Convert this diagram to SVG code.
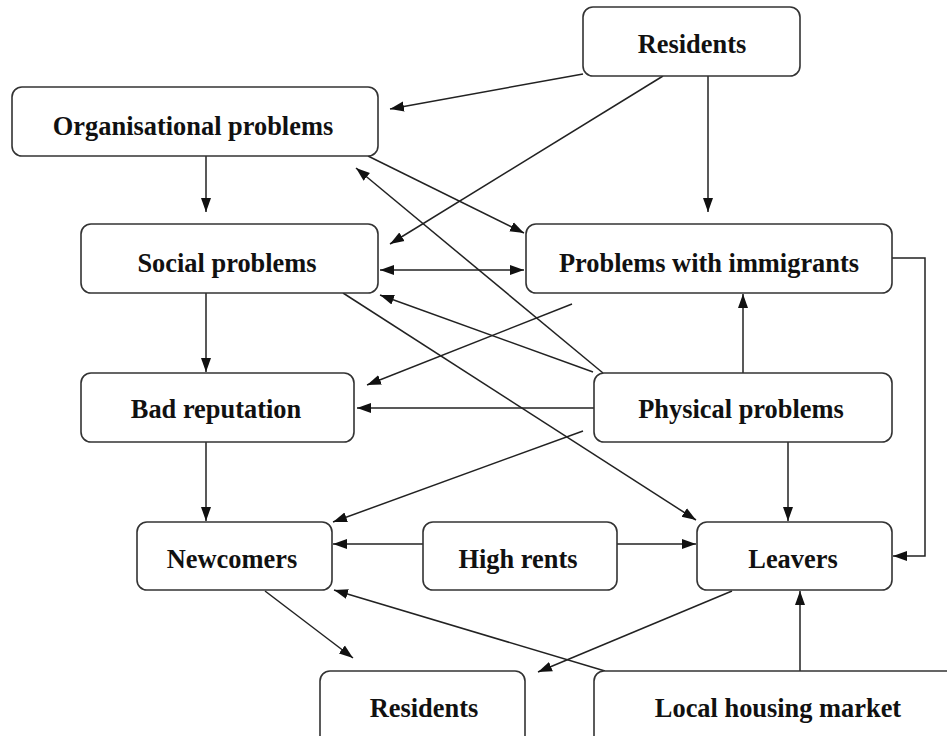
<svg xmlns="http://www.w3.org/2000/svg" width="947" height="736" viewBox="0 0 947 736">
<defs>
<marker id="ah" markerUnits="userSpaceOnUse" markerWidth="15" markerHeight="12" refX="14" refY="6" orient="auto-start-reverse"><path d="M0,1 L14,6 L0,11 z" fill="#111"/></marker>
<style>
.box{fill:#fff;stroke:#333;stroke-width:1.6}
.lbl{font-family:"Liberation Serif","Times New Roman",serif;font-weight:bold;font-size:26.4px;fill:#111;text-anchor:middle}
.c{fill:none;stroke:#222;stroke-width:1.5;marker-end:url(#ah)}
</style>
</defs>
<rect width="947" height="736" fill="#fff"/>
<g id="connectors">
<path class="c" d="M583,74 L390,109"/>
<path class="c" d="M663,76 L390,244"/>
<path class="c" d="M708,76 L708,212"/>
<path class="c" d="M206,156 L206,212"/>
<path class="c" d="M368,156 L524,233"/>
<path class="c" d="M603,373 L356,168"/>
<path class="c" d="M380,270 L524,270" style="marker-start:url(#ah)"/>
<path class="c" d="M593,372 L380,295"/>
<path class="c" d="M572,304 L367,385"/>
<path class="c" d="M594,408 L357,408"/>
<path class="c" d="M343,293 L696,520"/>
<path class="c" d="M206,293 L206,372"/>
<path class="c" d="M743,373 L743,294"/>
<path class="c" d="M892,258 L925,258 L925,556 L893,556"/>
<path class="c" d="M206,442 L206,521"/>
<path class="c" d="M583,431 L333,522"/>
<path class="c" d="M788,442 L788,521"/>
<path class="c" d="M423,544 L333,544"/>
<path class="c" d="M617,544 L696,544"/>
<path class="c" d="M265,591 L353,658"/>
<path class="c" d="M732,591 L538,672"/>
<path class="c" d="M605,671 L334,590"/>
<path class="c" d="M800,671 L800,591"/>
</g>
<g id="residents-top"><rect class="box" x="583" y="7" width="217" height="69" rx="10"/><text class="lbl" x="692" y="53">Residents</text></g>
<g id="organisational"><rect class="box" x="12" y="87" width="366" height="69" rx="10"/><text class="lbl" x="193" y="135">Organisational problems</text></g>
<g id="social"><rect class="box" x="81" y="224" width="297" height="69" rx="10"/><text class="lbl" x="227" y="272">Social problems</text></g>
<g id="immigrants"><rect class="box" x="526" y="224" width="366" height="69" rx="10"/><text class="lbl" x="709" y="272">Problems with immigrants</text></g>
<g id="bad-reputation"><rect class="box" x="81" y="373" width="273" height="69" rx="10"/><text class="lbl" x="216" y="418">Bad reputation</text></g>
<g id="physical"><rect class="box" x="594" y="373" width="298" height="69" rx="10"/><text class="lbl" x="741" y="418">Physical problems</text></g>
<g id="newcomers"><rect class="box" x="137" y="522" width="195" height="68" rx="10"/><text class="lbl" x="232" y="568">Newcomers</text></g>
<g id="high-rents"><rect class="box" x="423" y="522" width="194" height="68" rx="10"/><text class="lbl" x="518" y="568">High rents</text></g>
<g id="leavers"><rect class="box" x="697" y="522" width="195" height="68" rx="10"/><text class="lbl" x="793" y="568">Leavers</text></g>
<g id="residents-bottom"><rect class="box" x="320" y="671" width="205" height="80" rx="10"/><text class="lbl" x="424" y="717">Residents</text></g>
<g id="local-housing"><rect class="box" x="594" y="671" width="370" height="80" rx="10"/><text class="lbl" x="778" y="717">Local housing market</text></g>
</svg>
